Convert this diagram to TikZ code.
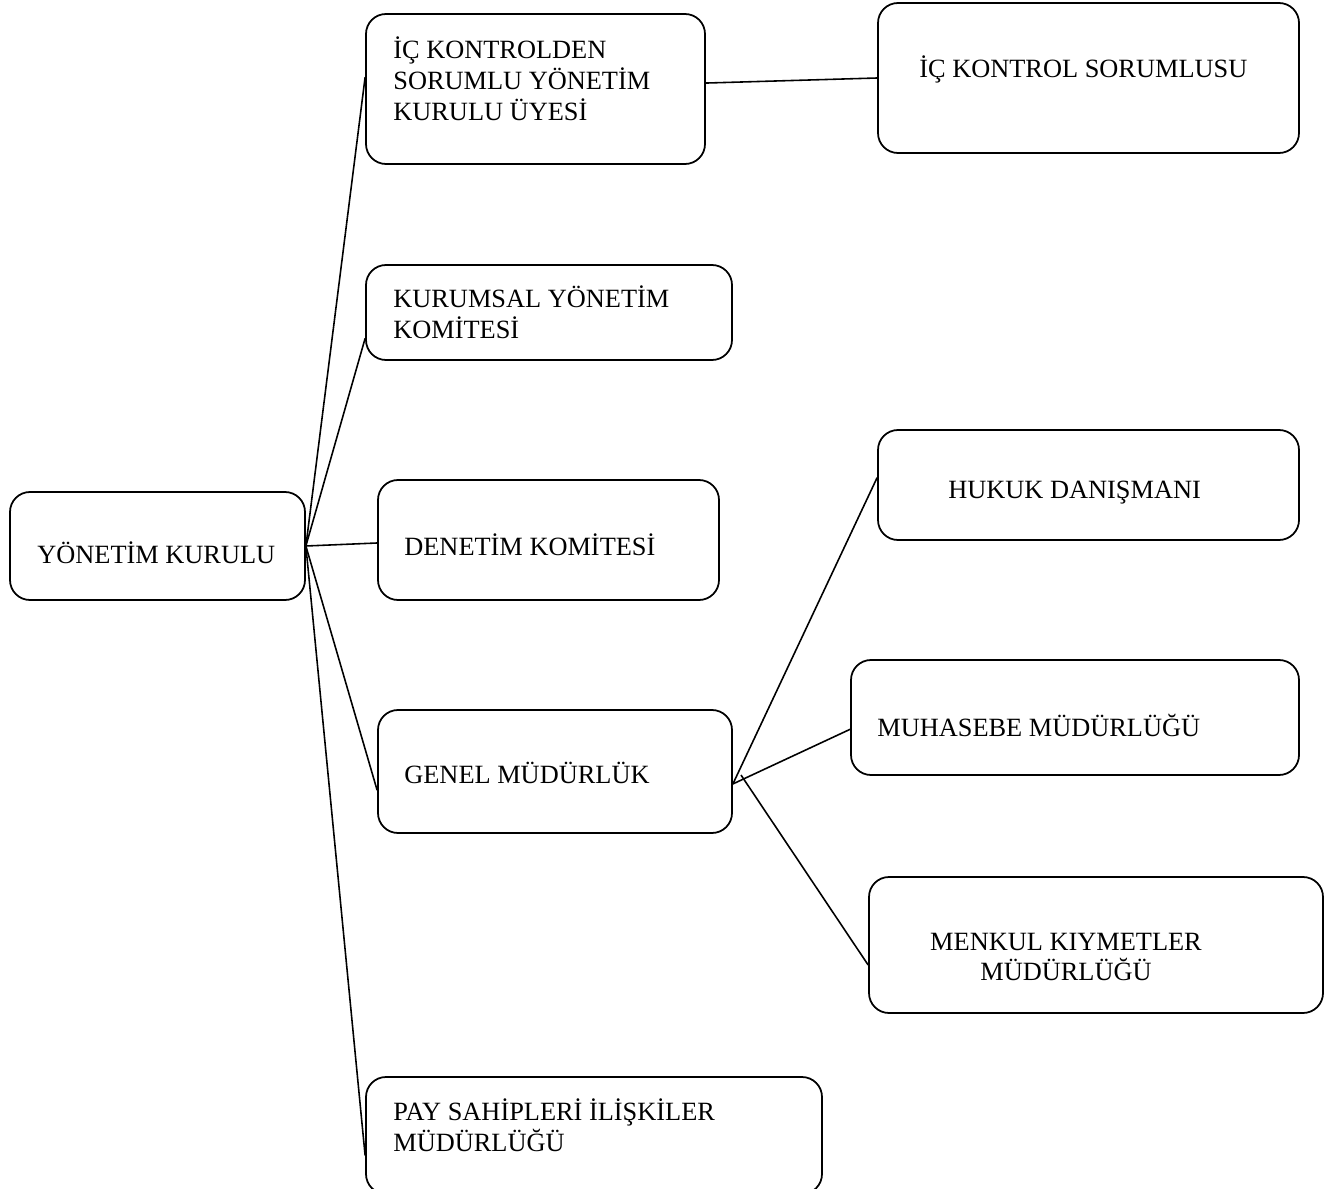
\documentclass[tikz,border=0pt]{standalone}
\usepackage{fontspec}
\setmainfont{Liberation Serif}
\usetikzlibrary{fit}
\begin{document}
\begin{tikzpicture}[x=0.02cm,y=-0.02cm,
    box/.style={draw,line width=1pt,rounded corners=0.4cm,inner sep=0pt},
    txt/.style={font=\fontsize{15}{17.6}\selectfont,inner sep=0pt,align=left,anchor=west},
    link/.style={line width=0.9pt}]
  \useasboundingbox (0,0) rectangle (1335,1189);

  % boxes
  \node(yk) [box,fit={(10,492) (305,600)}] {};
  \node(icuye) [box,fit={(366,14) (705,164)}] {};
  \node(icsor) [box,fit={(878,3) (1299,153)}] {};
  \node(kyk) [box,fit={(366,265) (732,360)}] {};
  \node(dk) [box,fit={(378,480) (719,600)}] {};
  \node(gm) [box,fit={(378,710) (732,833)}] {};
  \node(hd) [box,fit={(878,430) (1299,540)}] {};
  \node(mm) [box,fit={(851,660) (1299,775)}] {};
  \node(mk) [box,fit={(869,877) (1323,1013)}] {};
  \node(ps) [box,fit={(366,1077) (822,1194)}] {};

  % texts
  \node(ykt) [txt] at (37,553) {YÖNETİM KURULU};
  \node(icuyet) [txt] at (393,79) {İÇ KONTROLDEN\\SORUMLU YÖNETİM\\KURULU ÜYESİ};
  \node(icsort) [txt] at (919,69) {İÇ KONTROL SORUMLUSU};
  \node(kykt) [txt] at (393,312) {KURUMSAL YÖNETİM\\KOMİTESİ};
  \node(dkt) [txt] at (404,545) {DENETİM KOMİTESİ};
  \node(gmt) [txt] at (404,773) {GENEL MÜDÜRLÜK};
  \node(hdt) [txt] at (948,493) {HUKUK DANIŞMANI};
  \node(mmt) [txt] at (877,725) {MUHASEBE MÜDÜRLÜĞÜ};
  \node(mkt) [txt,align=center,anchor=center] at (1066,957) {MENKUL KIYMETLER\\MÜDÜRLÜĞÜ};
  \node(pst) [txt] at (393,1125) {PAY SAHİPLERİ İLİŞKİLER\\MÜDÜRLÜĞÜ};

  % connectors
  \coordinate(gmtip) at (741,775);
  \draw[link] (yk.east) -- (icuye.176);
  \draw[link] (yk.east) -- (kyk.188.5);
  \draw[link] (yk.east) -- (dk.181.8);
  \draw[link] (yk.east) -- (gm.186);
  \draw[link] (yk.east) -- (ps.185.6);
  \draw[link] (icuye.2) -- (icsor.west);
  \draw[link] (gm.-4) -- (hd.178);
  \draw[link] (gm.-4) -- (mm.183);
  \draw[link] (gmtip) -- (mk.185);
\end{tikzpicture}
\end{document}
